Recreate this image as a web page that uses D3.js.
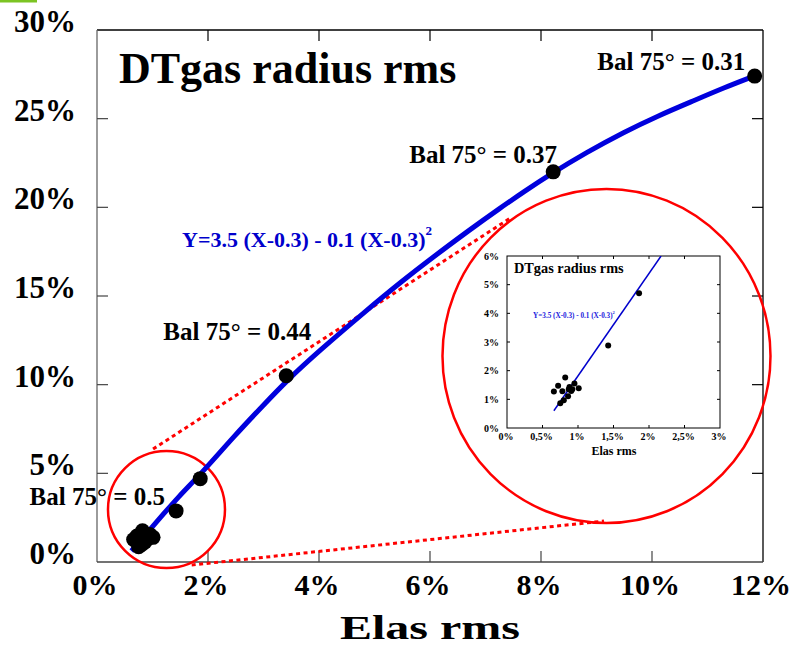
<!DOCTYPE html>
<html><head><meta charset="utf-8">
<script src="https://cdn.jsdelivr.net/npm/d3@7"></script>
<style>
html,body{margin:0;padding:0;background:#fff;}
svg{display:block;font-family:"Liberation Serif","Times New Roman",serif;font-weight:bold;}
</style></head>
<body>
<script>
// ---------- DATA ----------
const elasRms   = [0.66,0.72,0.78,0.82,0.75,0.80,0.86,0.88,0.905,0.92,0.95,1.01,0.87,1.425,1.86,3.41,8.22,11.85];
const radiusRms = [1.27,1.47,1.28,1.76,0.86,0.97,1.11,1.43,1.29,1.35,1.55,1.39,1.35,2.88,4.70,10.5,22.0,27.4];
// fitted curve (main chart)
const curveX = [0.62,1.0,1.5,1.84,2.5,3.0,3.41,4.0,4.86,5.5,6.06,6.7,7.26,7.7,8.16,8.82,9.5,10.1,10.74,11.3,11.82];
const curveY = [0.62,2.0,3.8,4.85,7.2,8.85,10.2,11.9,14.2,15.85,17.2,18.7,19.95,20.9,21.85,23.1,24.25,25.15,26.0,26.75,27.38];
// fitted line in the inset
const insetLineX = [0.66,2.17];
const insetLineY = [0.60,6.0];
const balLabels = ["Bal 75° = 0.31","Bal 75° = 0.37","Bal 75° = 0.44","Bal 75° = 0.5"];
const xTicks = [0,2,4,6,8,10,12];
const yTicks = [0,5,10,15,20,25,30];
const insetXTicks = [0,0.5,1,1.5,2,2.5,3];
const insetXTickLabels = ["0%","0,5%","1%","1,5%","2%","2,5%","3%"];
const insetYTicks = [0,1,2,3,4,5,6];
const titleText = "DTgas radius rms";
const xTitle = "Elas rms";
const eqText = "Y=3.5 (X-0.3) - 0.1 (X-0.3)";

// ---------- LAYOUT ----------
const W = 794, H = 649;
const svg = d3.select("body").append("svg").attr("width", W).attr("height", H);
const x = d3.scaleLinear().domain([0,12]).range([97,763]);
const y = d3.scaleLinear().domain([0,30]).range([562,30]);

// label anchors (data units, end-anchored)
const labelPos = [[11.68,27.74],[8.29,22.5],[3.86,12.52],[1.225,3.21]];

// green mark top-left
svg.append("rect").attr("x",0).attr("y",0).attr("width",37).attr("height",2.5).attr("fill","#7cc423");

// frame
const fr = svg.append("g");
fr.append("line").attr("x1",x(0)).attr("x2",x(12)).attr("y1",y(30)).attr("y2",y(30)).attr("stroke","#000").attr("stroke-width",1.3);
fr.append("line").attr("x1",x(12)).attr("x2",x(12)).attr("y1",y(30)).attr("y2",y(0)).attr("stroke","#000").attr("stroke-width",1.3);
fr.append("line").attr("x1",x(0)).attr("x2",x(0)).attr("y1",y(30)).attr("y2",y(0)).attr("stroke","#666").attr("stroke-width",1.3);
fr.append("line").attr("x1",x(0)).attr("x2",x(12)).attr("y1",y(0)).attr("y2",y(0)).attr("stroke","#444").attr("stroke-width",1.3);

// ticks (inward, mirrored)
const tk = 11;
xTicks.slice(1,-1).forEach(t=>{
  fr.append("line").attr("x1",x(t)).attr("x2",x(t)).attr("y1",y(0)).attr("y2",y(0)-tk).attr("stroke","#444").attr("stroke-width",1.2);
  fr.append("line").attr("x1",x(t)).attr("x2",x(t)).attr("y1",y(30)).attr("y2",y(30)+tk).attr("stroke","#000").attr("stroke-width",1.2);
});
yTicks.slice(1,-1).forEach(t=>{
  fr.append("line").attr("x1",x(0)).attr("x2",x(0)+tk).attr("y1",y(t)).attr("y2",y(t)).attr("stroke","#444").attr("stroke-width",1.2);
  fr.append("line").attr("x1",x(12)).attr("x2",x(12)-tk).attr("y1",y(t)).attr("y2",y(t)).attr("stroke","#000").attr("stroke-width",1.2);
});

// tick labels
svg.append("g").selectAll("text").data(xTicks).join("text")
  .attr("x",d=>x(d)-2).attr("y",595).attr("text-anchor","middle")
  .attr("font-size",30).text(d=>d+"%");
svg.append("g").selectAll("text").data(yTicks).join("text")
  .attr("x",76).attr("y",d=>y(d)+2).attr("text-anchor","end")
  .attr("font-size",31).text(d=>d+"%");

// axis title
svg.append("text").attr("x",430).attr("y",639).attr("text-anchor","middle").attr("font-size",34)
  .attr("textLength",180).attr("lengthAdjust","spacingAndGlyphs").text(xTitle);

// chart title
svg.append("text").attr("x",119).attr("y",83).attr("font-size",44).text(titleText);

// red annotation circles and dotted connectors
const ann = svg.append("g").attr("fill","none").attr("stroke","#ff0000");
const smallC = {cx:1.252, cy:2.96, r:1.054};
ann.append("ellipse").attr("cx",x(smallC.cx)).attr("cy",y(smallC.cy))
  .attr("rx",x(smallC.r)-x(0)).attr("ry",(x(smallC.r)-x(0))).attr("stroke-width",2.5);
const bigC = {cx:9.18, cy:11.62, rx:2.955, ry:9.42};
ann.append("ellipse").attr("cx",x(bigC.cx)).attr("cy",y(bigC.cy))
  .attr("rx",x(bigC.rx)-x(0)).attr("ry",y(0)-y(bigC.ry)).attr("stroke-width",2.5);
const connectors = [[[1.01,6.37],[7.47,19.44]],[[1.706,-0.17],[9.135,2.31]]];
connectors.forEach(c=>{
  ann.append("line").attr("x1",x(c[0][0])).attr("y1",y(c[0][1])).attr("x2",x(c[1][0])).attr("y2",y(c[1][1]))
    .attr("stroke-width",3).attr("stroke-dasharray","4,3.5");
});

// main curve
const line = d3.line().x(d=>x(d[0])).y(d=>y(d[1])).curve(d3.curveBasis);
svg.append("path").datum(curveX.map((v,i)=>[v,curveY[i]]))
  .attr("d",line).attr("fill","none").attr("stroke","#0000dd").attr("stroke-width",5);

// equation
const eq = svg.append("text").attr("x",182).attr("y",247).attr("font-size",22).attr("fill","#0000cc").text(eqText);
eq.append("tspan").attr("font-size",13).attr("dy",-12).text("2");

// main points
svg.append("g").selectAll("circle").data(elasRms).join("circle")
  .attr("cx",d=>x(d)).attr("cy",(d,i)=>y(radiusRms[i])).attr("r",7.5).attr("fill","#000");

// bal labels
svg.append("g").selectAll("text").data(balLabels).join("text")
  .attr("x",(d,i)=>x(labelPos[i][0])).attr("y",(d,i)=>y(labelPos[i][1]))
  .attr("text-anchor","end").attr("font-size",25).text(d=>d);

// ---------- INSET ----------
const ix = d3.scaleLinear().domain([0,3]).range([507,720]);
const iy = d3.scaleLinear().domain([0,6]).range([428,256]);
const ins = svg.append("g");
ins.append("rect").attr("x",ix(0)).attr("y",iy(6)).attr("width",ix(3)-ix(0)).attr("height",iy(0)-iy(6))
  .attr("fill","#fff").attr("stroke","#000").attr("stroke-width",1);
insetYTicks.slice(1,-1).forEach(t=>{
  ins.append("line").attr("x1",ix(0)).attr("x2",ix(0)+3).attr("y1",iy(t)).attr("y2",iy(t)).attr("stroke","#000");
  ins.append("line").attr("x1",ix(3)).attr("x2",ix(3)-3).attr("y1",iy(t)).attr("y2",iy(t)).attr("stroke","#000");
});
insetXTicks.slice(1,-1).forEach(t=>{
  ins.append("line").attr("x1",ix(t)).attr("x2",ix(t)).attr("y1",iy(0)).attr("y2",iy(0)-3).attr("stroke","#000");
  ins.append("line").attr("x1",ix(t)).attr("x2",ix(t)).attr("y1",iy(6)).attr("y2",iy(6)+3).attr("stroke","#000");
});
ins.append("g").selectAll("text").data(insetXTicks).join("text")
  .attr("x",d=>ix(d)-1).attr("y",439.5).attr("text-anchor","middle").attr("font-size",10)
  .text((d,i)=>insetXTickLabels[i]);
ins.append("g").selectAll("text").data(insetYTicks).join("text")
  .attr("x",499).attr("y",d=>iy(d)+3.5).attr("text-anchor","end").attr("font-size",10)
  .text(d=>d+"%");
ins.append("text").attr("x",614).attr("y",455).attr("text-anchor","middle").attr("font-size",12).text(xTitle);
ins.append("text").attr("x",514).attr("y",273).attr("font-size",14.3).text(titleText);
const ieq = ins.append("text").attr("x",533).attr("y",318).attr("font-size",7.2).attr("fill","#2222dd").text(eqText);
ieq.append("tspan").attr("font-size",4.5).attr("dy",-4).text("2");
// inset line clipped
ins.append("clipPath").attr("id","iclip").append("rect")
  .attr("x",ix(0)).attr("y",iy(6)).attr("width",ix(3)-ix(0)).attr("height",iy(0)-iy(6));
ins.append("line").attr("clip-path","url(#iclip)")
  .attr("x1",ix(insetLineX[0])).attr("y1",iy(insetLineY[0]))
  .attr("x2",ix(insetLineX[1])).attr("y2",iy(insetLineY[1]))
  .attr("stroke","#0000cc").attr("stroke-width",1.5);
ins.append("g").selectAll("circle").data(elasRms.filter(d=>d<=3)).join("circle")
  .attr("cx",d=>ix(d)).attr("cy",(d,i)=>iy(radiusRms[i])).attr("r",3).attr("fill","#000");
</script>
</body></html>
